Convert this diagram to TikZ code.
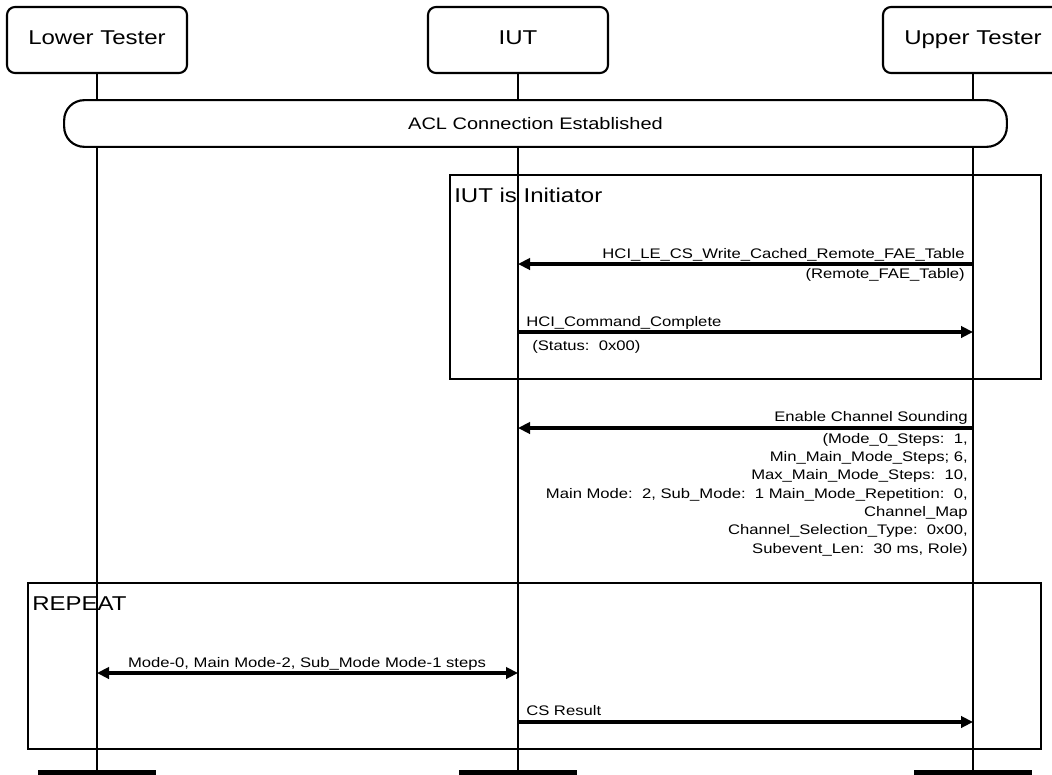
\documentclass[tikz,border=0pt]{standalone}
\usepackage{fontspec}
\setmainfont[FakeStretch=1.2]{Liberation Sans}
\usetikzlibrary{arrows.meta,positioning}

\begin{document}
\begin{tikzpicture}[x=0.75pt, y=-0.75pt,
    actor/.style={draw, fill=white, rounded corners=6pt, line width=1.6pt, minimum width=135pt, minimum height=49.5pt,
        text height=0.72em, text depth=0pt, font=\fontsize{15}{18}\selectfont},
    life/.style={line width=1.9pt},
    frame/.style={line width=2pt},
    msg/.style={line width=2.6pt, -{Triangle[length=9pt,width=8.5pt]}},
    lbl/.style={inner sep=0pt, font=\fontsize{10.4}{13.75}\selectfont},
    title/.style={inner sep=0pt, font=\fontsize{15}{18}\selectfont}
]
    \useasboundingbox (0,0) rectangle (1052,774);
    \foreach \x/\name/\txt in {97/lt/Lower Tester, 518/iut/IUT, 973/ut/Upper Tester} {
        \node[actor] (\name) at (\x,40) {\txt};
        \draw[life] (\name.south) -- (\x,774);
        \fill (\x-59,770) rectangle (\x+59,780);
    }
    \node[draw, fill=white, line width=1.6pt, rounded corners=15pt, minimum width=707pt, minimum height=35pt,
        font=\fontsize{12.5}{15}\selectfont] (acl) at (535.5,123.5) {ACL Connection Established};
    \foreach \n/\y in {1/264, 2/332, 3/428, 4/673, 5/722} {
        \coordinate (lt\n) at (97,\y);
        \coordinate (iut\n) at (518,\y);
        \coordinate (ut\n) at (973,\y);
    }
    \draw[frame] (450,175) rectangle (1041,379);
    \node[title, anchor=base west] (init) at (454,202) {IUT is Initiator};
    \draw[frame] (28,583) rectangle (1041,749);
    \node[title, anchor=base west] (rep) at (32,610) {REPEAT};

    \draw[msg] (ut1) -- (iut1);
    \node[lbl, anchor=base east] (m1) at (965,258) {HCI\_LE\_CS\_Write\_Cached\_Remote\_FAE\_Table};
    \node[lbl, anchor=base east] (m1b) at (965,278) {(Remote\_FAE\_Table)};
    \draw[msg] (iut2) -- (ut2);
    \node[lbl, anchor=base west] (m2) at (526,326) {HCI\_Command\_Complete};
    \node[lbl, anchor=base west] (m2b) at (532,350) {(Status:\ \ 0x00)};
    \draw[msg] (ut3) -- (iut3);
    \node[lbl, anchor=base east] (m3) at (968,421) {Enable Channel Sounding};
    \node[lbl, anchor=north east, align=right] (m3b) at (968,433) {(Mode\_0\_Steps:\ \ 1,\\
        Min\_Main\_Mode\_Steps; 6,\\
        Max\_Main\_Mode\_Steps:\ \ 10,\\
        Main Mode:\ \ 2, Sub\_Mode:\ \ 1 Main\_Mode\_Repetition:\ \ 0,\\
        Channel\_Map\\
        Channel\_Selection\_Type:\ \ 0x00,\\
        Subevent\_Len:\ \ 30 ms, Role)};
    \draw[msg, {Triangle[length=9pt,width=8.5pt]}-{Triangle[length=9pt,width=8.5pt]}] (lt4) -- (iut4);
    \node[lbl, anchor=base] (m4) at (307,667) {Mode-0, Main Mode-2, Sub\_Mode Mode-1 steps};
    \draw[msg] (iut5) -- (ut5);
    \node[lbl, anchor=base west] (m5) at (526,715) {CS Result};
\end{tikzpicture}
\end{document}
